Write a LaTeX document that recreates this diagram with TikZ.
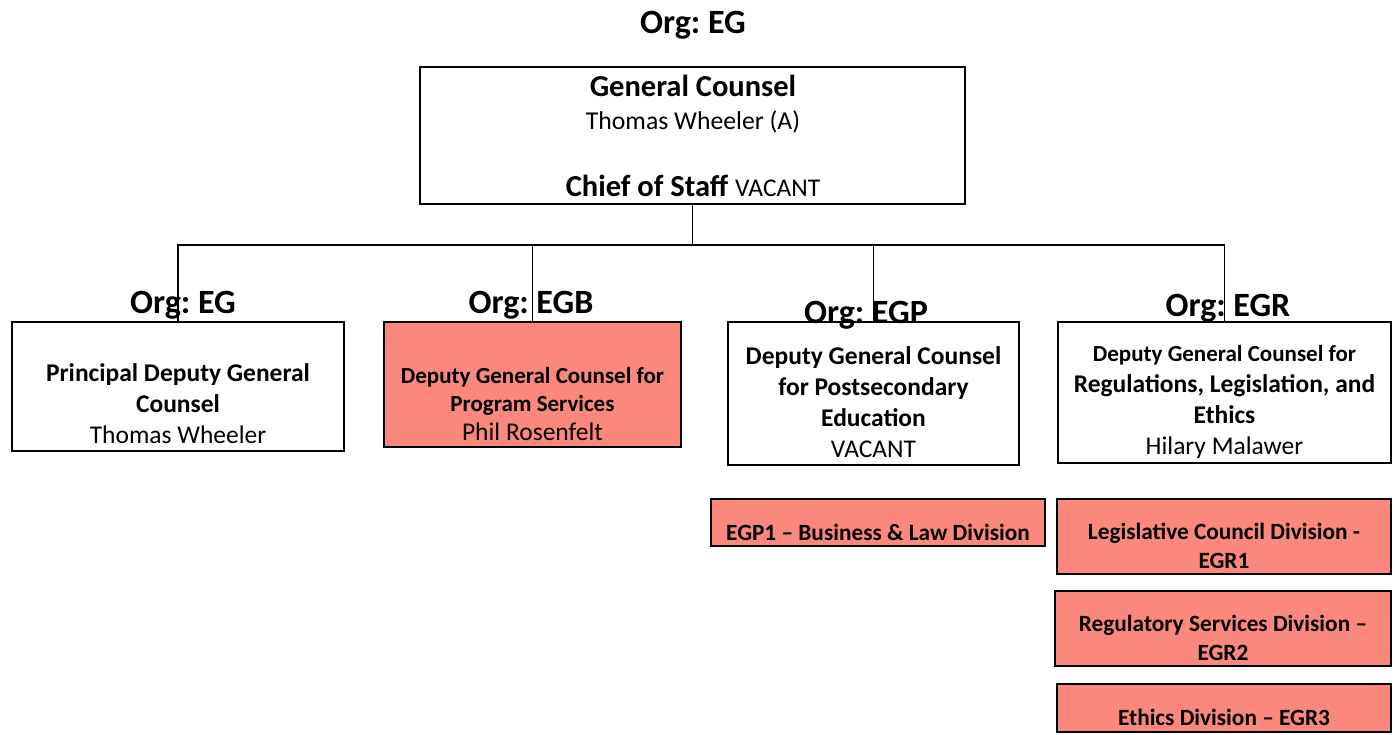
\documentclass[tikz,border=0pt]{standalone}
\usepackage{fontspec}
\setmainfont{Carlito}
\frenchspacing
\usetikzlibrary{positioning}
\definecolor{salmon}{RGB}{250,136,124}
\newcommand{\fsz}[1]{\fontsize{#1}{\fpeval{1.22*#1}}\selectfont}
\tikzset{%
    box/.style={draw, line width=1.8pt, fill=white, inner sep=0pt},
    divbox/.style={box, fill=salmon},
    txt/.style={align=center, inner sep=0pt, font=\fsz{25.5}},
    divtxt/.style={align=center, inner sep=0pt, font=\bfseries\fsz{23.3}},
    org/.style={inner sep=0pt, anchor=base, font=\bfseries\fsz{34}},
    bus/.style={line width=1.8pt},
}

\begin{document}
\begin{tikzpicture}[x=1pt, y=-1pt]
    \useasboundingbox (0,0) rectangle (1395,734);
    % top box
    \node[org] (orgtop) at (693,33) {Org: EG};
    \node[box, minimum width=545, minimum height=137] (gc) at (692.5,135.5) {};
    \node[anchor=base, inner sep=0pt, font=\bfseries\fsz{30.5}] (gctitle) at (693,96) {General Counsel};
    \node[anchor=base, inner sep=0pt, font=\fsz{25.7}] (gcname) at (693,129) {Thomas Wheeler (A)};
    \node[anchor=base, inner sep=0pt, font=\fsz{30.5}] (gccos) at (693,196) {\textbf{Chief of Staff} {\fsz{25.5}VACANT}};
    % deputies
    \node[box, minimum width=332, minimum height=129] (pdgc) at (178,386.5) {};
    \node[box, fill=salmon, minimum width=297, minimum height=125] (egb) at (532.5,384.5) {};
    \node[box, minimum width=291, minimum height=143] (egp) at (873.5,393.5) {};
    \node[box, minimum width=333, minimum height=141] (egr) at (1224.5,392.5) {};
    \node[txt] (pdgct) at (178,404) {\textbf{Principal Deputy General}\\\textbf{Counsel}\\Thomas Wheeler};
    \node[txt, font=\fsz{23}] (egbt) at (532.5,404) {\textbf{Deputy General Counsel for}\\\textbf{Program Services}\\{\fsz{25.5}Phil Rosenfelt}};
    \node[txt] (egpt) at (873.5,402) {\textbf{Deputy General Counsel}\\\textbf{for Postsecondary}\\\textbf{Education}\\VACANT};
    \node[txt] (egrt) at (1224.5,402) {{\fsz{23}\textbf{Deputy General Counsel for}}\\\textbf{Regulations, Legislation, and}\\\textbf{Ethics}\\Hilary Malawer};
    % org labels
    \node[org] (orgeg) at (183,313) {Org: EG};
    \node[org] (orgegb) at (531,313) {Org: EGB};
    \node[org] (orgegp) at (866,323) {Org: EGP};
    \node[org] (orgegr) at (1228,316) {Org: EGR};
    % divisions
    \node[divbox, minimum width=334, minimum height=47] (egp1) at (878,522.5) {};
    \node[divbox, minimum width=334, minimum height=75] (egr1) at (1224,536.5) {};
    \node[divbox, minimum width=336, minimum height=75] (egr2) at (1223,628.5) {};
    \node[divbox, minimum width=334, minimum height=48] (egr3) at (1224,708) {};
    \node[divtxt] (egp1t) at (878,532) {EGP1 -- Business \& Law Division};
    \node[divtxt] (egr1t) at (1224,546) {Legislative Council Division -\\EGR1};
    \node[divtxt] (egr2t) at (1223,638) {Regulatory Services Division --\\EGR2};
    \node[divtxt] (egr3t) at (1224,717) {Ethics Division -- EGR3};
    % connectors
    \path (gc.south) ++(0,40) coordinate (bus);
    \draw[bus] (gc.south) -- (bus);
    \draw[bus] (pdgc.north) |- (bus);
    \draw[bus] (egb.north) |- (bus);
    \draw[bus] (egp.north) |- (bus);
    \draw[bus] (egr.north) |- (bus);
\end{tikzpicture}
\end{document}
